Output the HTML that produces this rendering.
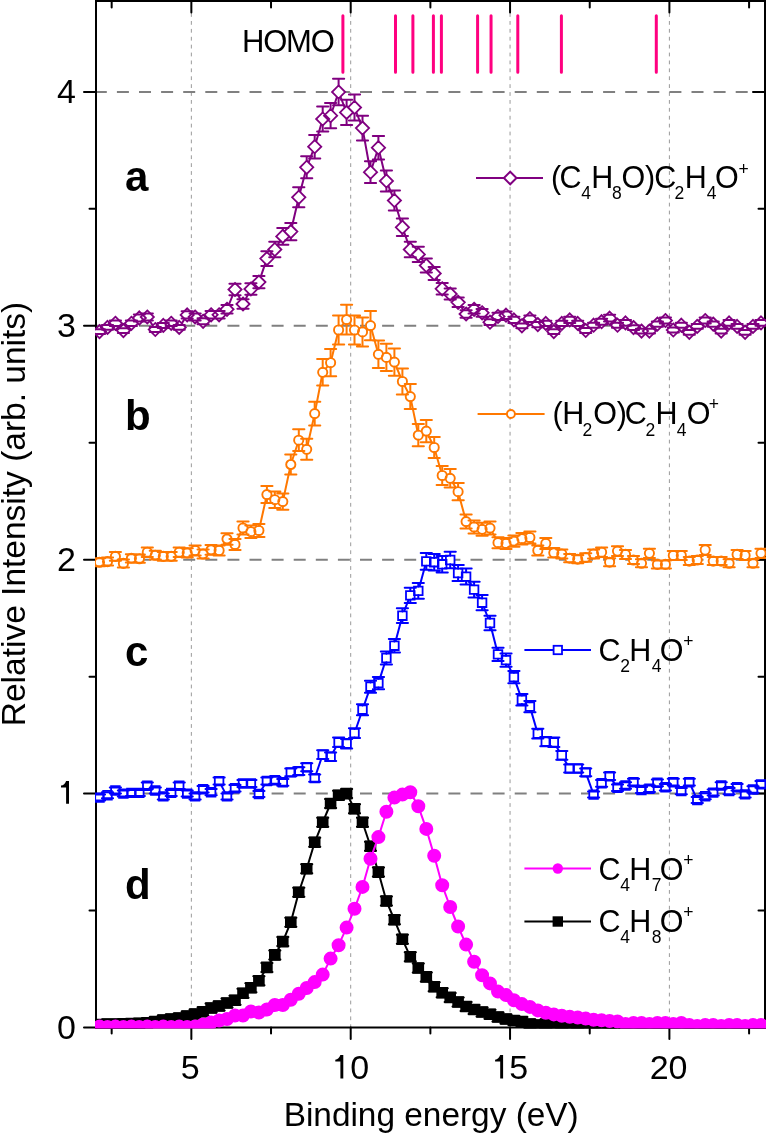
<!DOCTYPE html><html><head><meta charset="utf-8"><style>html,body{margin:0;padding:0;background:#fff}</style></head><body><svg width="766" height="1134" viewBox="0 0 766 1134" style="display:block;will-change:transform">
<rect width="766" height="1134" fill="#fff"/>
<line x1="191.35" y1="-2.7" x2="191.35" y2="1027" stroke="#9a9a9a" stroke-width="1" stroke-dasharray="3.8 4.1"/>
<line x1="350.70" y1="-2.7" x2="350.70" y2="1027" stroke="#9a9a9a" stroke-width="1" stroke-dasharray="3.8 4.1"/>
<line x1="510.05" y1="-2.7" x2="510.05" y2="1027" stroke="#9a9a9a" stroke-width="1" stroke-dasharray="3.8 4.1"/>
<line x1="669.40" y1="-2.7" x2="669.40" y2="1027" stroke="#9a9a9a" stroke-width="1" stroke-dasharray="3.8 4.1"/>
<line x1="94.8" y1="793.60" x2="765" y2="793.60" stroke="#808080" stroke-width="2" stroke-dasharray="12 10.1"/>
<line x1="94.8" y1="559.70" x2="765" y2="559.70" stroke="#808080" stroke-width="2" stroke-dasharray="12 10.1"/>
<line x1="94.8" y1="325.80" x2="765" y2="325.80" stroke="#808080" stroke-width="2" stroke-dasharray="12 10.1"/>
<line x1="94.8" y1="91.90" x2="765" y2="91.90" stroke="#808080" stroke-width="2" stroke-dasharray="12 10.1"/>
<rect x="96" y="1" width="669" height="1026.5" fill="none" stroke="#000" stroke-width="2"/>
<path d="M191.35 1V12.5M191.35 1027.5V1039M350.70 1V12.5M350.70 1027.5V1039M510.05 1V12.5M510.05 1027.5V1039M669.40 1V12.5M669.40 1027.5V1039M111.67 1V7.5M111.67 1027.5V1033.5M271.02 1V7.5M271.02 1027.5V1033.5M430.38 1V7.5M430.38 1027.5V1033.5M589.73 1V7.5M589.73 1027.5V1033.5M749.08 1V7.5M749.08 1027.5V1033.5M84 1027.50H96M753 1027.50H765M84 793.60H96M753 793.60H765M84 559.70H96M753 559.70H765M84 325.80H96M753 325.80H765M84 91.90H96M753 91.90H765M89.5 910.55H96M758.5 910.55H765M89.5 676.65H96M758.5 676.65H765M89.5 442.75H96M758.5 442.75H765M89.5 208.85H96M758.5 208.85H765" stroke="#000" stroke-width="2" stroke-linecap="round" fill="none"/>
<g font-family="Liberation Sans" font-size="34" fill="#000">
<text x="76" y="1038.5" text-anchor="end">0</text>
<text x="76" y="570.7" text-anchor="end">2</text>
<text x="76" y="336.8" text-anchor="end">3</text>
<text x="76" y="102.9" text-anchor="end">4</text>
<path d="M66.10 780.90H69.00V803.80H66.10V787.40H61.00V785.60C63.40 785.30 65.20 783.70 66.10 780.90Z" fill="#000"/>
<text x="190.3" y="1078.8" text-anchor="middle">5</text>
<text x="668.6" y="1078.8" text-anchor="middle">20</text>
<text x="350.3" y="1078.8">0</text><text x="509.3" y="1078.8">5</text>
<path d="M340.40 1055.10H343.30V1078.60H340.40V1061.60H335.30V1059.80C337.70 1059.50 339.50 1057.90 340.40 1055.10Z" fill="#000"/>
<path d="M500.20 1055.10H503.10V1078.60H500.20V1061.60H495.10V1059.80C497.50 1059.50 499.30 1057.90 500.20 1055.10Z" fill="#000"/>
<text x="431.2" y="1126" text-anchor="middle" font-size="33.4">Binding energy (eV)</text>
<text transform="translate(25,514) rotate(-90)" text-anchor="middle" font-size="33.5">Relative Intensity (arb. units)</text>
</g>
<g font-family="Liberation Sans" font-size="42" font-weight="bold">
<text x="125" y="191">a</text>
<text x="125" y="430">b</text>
<text x="125" y="666">c</text>
<text x="125" y="899">d</text>
</g>
<text x="242" y="51.9" font-family="Liberation Sans" font-size="31" letter-spacing="-1.2">HOMO</text>
<path d="M342.9 15.7V72.2M395.5 15.7V72.2M412.9 15.7V72.2M433.4 15.7V72.2M441.4 15.7V72.2M477.6 15.7V72.2M491.05 15.7V72.2M517.8 15.7V72.2M561.4 15.7V72.2M656.3 15.7V72.2" stroke="#ff0080" stroke-width="3" stroke-linecap="round"/>
<!--LEGENDS--><path d="M476 178H543" stroke="#800080" stroke-width="2"/>
<path d="M510.2 171.7L516.5 178L510.2 184.3L503.9 178Z" stroke="#800080" stroke-width="2" fill="#fff"/>
<text x="552" y="187.8" font-family="Liberation Sans" font-size="30.5"><tspan y="187.8" dx="-0.9">(</tspan><tspan y="187.8" dx="-1.8">C</tspan><tspan font-size="17.5" y="199.3" dx="-0.3">4</tspan><tspan y="187.8" dx="0.2">H</tspan><tspan font-size="17.5" y="199.3" dx="-1.2">8</tspan><tspan y="187.8" dx="-0.3">O</tspan><tspan y="187.8" dx="-0.1">)</tspan><tspan y="187.8" dx="-1.0">C</tspan><tspan font-size="17.5" y="199.3" dx="-1.8">2</tspan><tspan y="187.8" dx="0.5">H</tspan><tspan font-size="17.5" y="199.3" dx="0.1">4</tspan><tspan y="187.8" dx="-1.5">O</tspan><tspan font-size="17.5" y="175.20000000000002" dx="-0.2">+</tspan></text>
<path d="M477.6 414H544.6" stroke="#ff7800" stroke-width="2"/>
<circle cx="510.9" cy="414" r="4" stroke="#ff7800" stroke-width="1.9" fill="#fff"/>
<text x="554" y="424.4" font-family="Liberation Sans" font-size="30.5"><tspan y="424.4" dx="-1.6">(</tspan><tspan y="424.4" dx="-0.2">H</tspan><tspan font-size="17.5" y="435.9" dx="-2.0">2</tspan><tspan y="424.4" dx="1.0">O</tspan><tspan y="424.4" dx="-0.2">)</tspan><tspan y="424.4" dx="-2.2">C</tspan><tspan font-size="17.5" y="435.9" dx="-1.2">2</tspan><tspan y="424.4" dx="0.4">H</tspan><tspan font-size="17.5" y="435.9" dx="-0.8">4</tspan><tspan y="424.4" dx="0.2">O</tspan><tspan font-size="17.5" y="410.4" dx="-1.8">+</tspan></text>
<path d="M524.4 650H591" stroke="#0000ff" stroke-width="2"/>
<rect x="553.6" y="645.8" width="8.4" height="8.4" stroke="#0000ff" stroke-width="1.8" fill="#fff"/>
<text x="598.5" y="660.6" font-family="Liberation Sans" font-size="30.5"><tspan y="660.6">C</tspan><tspan font-size="17.5" y="672.1" dx="-0.4">2</tspan><tspan y="660.6" dx="-0.6">H</tspan><tspan font-size="17.5" y="672.1" dx="0.4">4</tspan><tspan y="660.6" dx="-1.8">O</tspan><tspan font-size="17.5" y="646.6">+</tspan></text>
<path d="M524.4 868.5H591" stroke="#ff00ff" stroke-width="2"/>
<circle cx="557.8" cy="868.5" r="5.2" fill="#ff00ff"/>
<text x="598.5" y="879.5" font-family="Liberation Sans" font-size="30.5"><tspan y="879.5">C</tspan><tspan font-size="17.5" y="891.0" dx="-0.4">4</tspan><tspan y="879.5" dx="-0.6">H</tspan><tspan font-size="17.5" y="891.0" dx="0.4">7</tspan><tspan y="879.5" dx="-1.8">O</tspan><tspan font-size="17.5" y="865.5">+</tspan></text>
<path d="M524.4 921.5H591" stroke="#000" stroke-width="2"/>
<rect x="552.6" y="916.3" width="10.4" height="10.4" fill="#000"/>
<text x="598.5" y="931.7" font-family="Liberation Sans" font-size="30.5"><tspan y="931.7">C</tspan><tspan font-size="17.5" y="943.2" dx="-0.4">4</tspan><tspan y="931.7" dx="-0.6">H</tspan><tspan font-size="17.5" y="943.2" dx="0.4">8</tspan><tspan y="931.7" dx="-1.8">O</tspan><tspan font-size="17.5" y="917.7">+</tspan></text><!--/LEGENDS-->
<!--DATA--><defs><clipPath id="pc"><rect x="95" y="0" width="671" height="1028.6"/></clipPath></defs>
<g clip-path="url(#pc)">
<polyline points="99.5,331.6 107.5,327.4 115.4,323.3 123.4,330.6 131.4,323.3 139.3,318 147.3,317 155.3,329.5 163.3,325.4 171.2,323.3 179.2,327.4 187.2,314.9 195.1,317 203.1,321.3 211.1,314.8 219.1,314.8 227,309.3 235,289.5 243,304 250.9,289 258.9,282.1 266.9,258.6 274.8,249.5 282.8,236.4 290.8,231.6 298.8,197.3 306.7,167.3 314.7,146.7 322.7,119 330.6,115.7 338.6,92 346.6,112.4 354.5,107.5 362.5,128.1 370.5,172.2 378.4,147.7 386.4,181 394.4,200.5 402.4,227.3 410.3,249.5 418.3,254.4 426.3,265.5 434.2,273.5 442.2,288.8 450.2,294 458.1,302.3 466.1,314 474.1,309.3 482.1,312.8 490,322.2 498,316.4 506,315.2 513.9,319.9 521.9,325.8 529.9,318.7 537.8,324.6 545.8,323.4 553.8,331.6 561.8,323.4 569.7,319.9 577.7,323.4 585.7,330.5 593.6,325.2 601.6,321.7 609.6,318.2 617.5,325.2 625.5,322.9 633.5,327.6 641.5,331.1 649.4,331.1 657.4,324.1 665.4,320.5 673.3,330 681.3,325.2 689.3,332.3 697.2,326.4 705.2,320.5 713.2,324.1 721.2,331.1 729.1,322.9 737.1,326.4 745.1,332.3 753,326.4 761,322.9" fill="none" stroke="#800080" stroke-width="2" stroke-linejoin="round"/>
<path d="M99.5 325L106.1 331.6L99.5 338.2L92.9 331.6ZM107.5 320.8L114.1 327.4L107.5 334L100.9 327.4ZM115.4 316.7L122 323.3L115.4 329.9L108.8 323.3ZM123.4 324L130 330.6L123.4 337.2L116.8 330.6ZM131.4 316.7L138 323.3L131.4 329.9L124.8 323.3ZM139.3 311.4L145.9 318L139.3 324.6L132.8 318ZM147.3 310.4L153.9 317L147.3 323.6L140.7 317ZM155.3 322.9L161.9 329.5L155.3 336.1L148.7 329.5ZM163.3 318.8L169.9 325.4L163.3 332L156.7 325.4ZM171.2 316.7L177.8 323.3L171.2 329.9L164.6 323.3ZM179.2 320.8L185.8 327.4L179.2 334L172.6 327.4ZM187.2 308.3L193.8 314.9L187.2 321.5L180.6 314.9ZM195.1 310.4L201.7 317L195.1 323.6L188.5 317ZM203.1 314.7L209.7 321.3L203.1 327.9L196.5 321.3ZM211.1 308.2L217.7 314.8L211.1 321.4L204.5 314.8ZM219.1 308.2L225.7 314.8L219.1 321.4L212.5 314.8ZM227 302.7L233.6 309.3L227 315.9L220.4 309.3ZM235 282.9L241.6 289.5L235 296.1L228.4 289.5ZM243 297.4L249.6 304L243 310.6L236.4 304ZM250.9 282.4L257.5 289L250.9 295.6L244.3 289ZM258.9 275.5L265.5 282.1L258.9 288.7L252.3 282.1ZM266.9 252L273.5 258.6L266.9 265.2L260.3 258.6ZM274.8 242.9L281.4 249.5L274.8 256.1L268.2 249.5ZM282.8 229.8L289.4 236.4L282.8 243L276.2 236.4ZM290.8 225L297.4 231.6L290.8 238.2L284.2 231.6ZM298.8 190.7L305.4 197.3L298.8 203.9L292.1 197.3ZM306.7 160.7L313.3 167.3L306.7 173.9L300.1 167.3ZM314.7 140.1L321.3 146.7L314.7 153.3L308.1 146.7ZM322.7 112.4L329.3 119L322.7 125.6L316.1 119ZM330.6 109.1L337.2 115.7L330.6 122.3L324 115.7ZM338.6 85.4L345.2 92L338.6 98.6L332 92ZM346.6 105.8L353.2 112.4L346.6 119L340 112.4ZM354.5 100.9L361.1 107.5L354.5 114.1L347.9 107.5ZM362.5 121.5L369.1 128.1L362.5 134.7L355.9 128.1ZM370.5 165.6L377.1 172.2L370.5 178.8L363.9 172.2ZM378.4 141.1L385.1 147.7L378.4 154.3L371.8 147.7ZM386.4 174.4L393 181L386.4 187.6L379.8 181ZM394.4 193.9L401 200.5L394.4 207.1L387.8 200.5ZM402.4 220.7L409 227.3L402.4 233.9L395.8 227.3ZM410.3 242.9L416.9 249.5L410.3 256.1L403.7 249.5ZM418.3 247.8L424.9 254.4L418.3 261L411.7 254.4ZM426.3 258.9L432.9 265.5L426.3 272.1L419.7 265.5ZM434.2 266.9L440.8 273.5L434.2 280.1L427.6 273.5ZM442.2 282.2L448.8 288.8L442.2 295.4L435.6 288.8ZM450.2 287.4L456.8 294L450.2 300.6L443.6 294ZM458.1 295.7L464.8 302.3L458.1 308.9L451.5 302.3ZM466.1 307.4L472.7 314L466.1 320.6L459.5 314ZM474.1 302.7L480.7 309.3L474.1 315.9L467.5 309.3ZM482.1 306.2L488.7 312.8L482.1 319.4L475.5 312.8ZM490 315.6L496.6 322.2L490 328.8L483.4 322.2ZM498 309.8L504.6 316.4L498 323L491.4 316.4ZM506 308.6L512.6 315.2L506 321.8L499.4 315.2ZM513.9 313.3L520.5 319.9L513.9 326.5L507.3 319.9ZM521.9 319.2L528.5 325.8L521.9 332.4L515.3 325.8ZM529.9 312.1L536.5 318.7L529.9 325.3L523.3 318.7ZM537.8 318L544.4 324.6L537.8 331.2L531.2 324.6ZM545.8 316.8L552.4 323.4L545.8 330L539.2 323.4ZM553.8 325L560.4 331.6L553.8 338.2L547.2 331.6ZM561.8 316.8L568.4 323.4L561.8 330L555.2 323.4ZM569.7 313.3L576.3 319.9L569.7 326.5L563.1 319.9ZM577.7 316.8L584.3 323.4L577.7 330L571.1 323.4ZM585.7 323.9L592.3 330.5L585.7 337.1L579.1 330.5ZM593.6 318.6L600.2 325.2L593.6 331.8L587 325.2ZM601.6 315.1L608.2 321.7L601.6 328.3L595 321.7ZM609.6 311.6L616.2 318.2L609.6 324.8L603 318.2ZM617.5 318.6L624.1 325.2L617.5 331.8L610.9 325.2ZM625.5 316.3L632.1 322.9L625.5 329.5L618.9 322.9ZM633.5 321L640.1 327.6L633.5 334.2L626.9 327.6ZM641.5 324.5L648.1 331.1L641.5 337.7L634.9 331.1ZM649.4 324.5L656 331.1L649.4 337.7L642.8 331.1ZM657.4 317.5L664 324.1L657.4 330.7L650.8 324.1ZM665.4 313.9L672 320.5L665.4 327.1L658.8 320.5ZM673.3 323.4L679.9 330L673.3 336.6L666.7 330ZM681.3 318.6L687.9 325.2L681.3 331.8L674.7 325.2ZM689.3 325.7L695.9 332.3L689.3 338.9L682.7 332.3ZM697.2 319.8L703.9 326.4L697.2 333L690.6 326.4ZM705.2 313.9L711.8 320.5L705.2 327.1L698.6 320.5ZM713.2 317.5L719.8 324.1L713.2 330.7L706.6 324.1ZM721.2 324.5L727.8 331.1L721.2 337.7L714.6 331.1ZM729.1 316.3L735.7 322.9L729.1 329.5L722.5 322.9ZM737.1 319.8L743.7 326.4L737.1 333L730.5 326.4ZM745.1 325.7L751.7 332.3L745.1 338.9L738.5 332.3ZM753 319.8L759.6 326.4L753 333L746.4 326.4ZM761 316.3L767.6 322.9L761 329.5L754.4 322.9Z" stroke="#800080" stroke-width="1.8" fill="#fff"/>
<path d="M93.9 329.2H105.1M93.9 334H105.1M101.9 325H113.1M101.9 329.8H113.1M109.8 320.5H121M109.8 326.1H121M117.8 328.2H129M117.8 333H129M125.8 320.5H137M125.8 326.1H137M133.8 314.6H144.9M133.8 321.4H144.9M141.7 313.5H152.9M141.7 320.5H152.9M149.7 327.1H160.9M149.7 331.9H160.9M157.7 322.9H168.9M157.7 327.9H168.9M165.6 320.5H176.8M165.6 326.1H176.8M173.6 325H184.8M173.6 329.8H184.8M181.6 311.2H192.8M181.6 318.6H192.8M189.5 313.5H200.7M189.5 320.5H200.7M197.5 318.3H208.7M197.5 324.3H208.7M205.5 311.1H216.7M205.5 318.5H216.7M213.5 311.1H224.7M213.5 318.5H224.7M221.4 305.1H232.6M221.4 313.5H232.6M229.4 283.8H240.6M229.4 295.2H240.6M237.4 299.3H248.6M237.4 308.7H248.6M245.3 283.3H256.5M245.3 294.7H256.5M253.3 276H264.5M253.3 288.2H264.5M266.9 251.2V252M266.9 265.2V266M261.3 251.2H272.5M261.3 266H272.5M274.8 241.7V242.9M274.8 256.1V257.3M269.2 241.7H280.4M269.2 257.3H280.4M282.8 228V229.8M282.8 243V244.8M277.2 228H288.4M277.2 244.8H288.4M290.8 223V225M290.8 238.2V240.2M285.2 223H296.4M285.2 240.2H296.4M298.8 187.3V190.7M298.8 203.9V207.3M293.1 187.3H304.4M293.1 207.3H304.4M306.7 156.3V160.7M306.7 173.9V178.3M301.1 156.3H312.3M301.1 178.3H312.3M314.7 135V140.1M314.7 153.3V158.4M309.1 135H320.3M309.1 158.4H320.3M322.7 106.5V112.4M322.7 125.6V131.5M317.1 106.5H328.3M317.1 131.5H328.3M330.6 103.1V109.1M330.6 122.3V128.3M325 103.1H336.2M325 128.3H336.2M338.6 78.7V85.4M338.6 98.6V105.3M333 78.7H344.2M333 105.3H344.2M346.6 99.7V105.8M346.6 119V125.1M341 99.7H352.2M341 125.1H352.2M354.5 94.6V100.9M354.5 114.1V120.4M348.9 94.6H360.1M348.9 120.4H360.1M362.5 115.8V121.5M362.5 134.7V140.4M356.9 115.8H368.1M356.9 140.4H368.1M370.5 161.3V165.6M370.5 178.8V183.1M364.9 161.3H376.1M364.9 183.1H376.1M378.4 136V141.1M378.4 154.3V159.4M372.8 136H384.1M372.8 159.4H384.1M386.4 170.4V174.4M386.4 187.6V191.6M380.8 170.4H392M380.8 191.6H392M394.4 190.6V193.9M394.4 207.1V210.4M388.8 190.6H400M388.8 210.4H400M402.4 218.5V220.7M402.4 233.9V236.1M396.8 218.5H408M396.8 236.1H408M410.3 241.7V242.9M410.3 256.1V257.3M404.7 241.7H415.9M404.7 257.3H415.9M418.3 246.8V247.8M418.3 261V262M412.7 246.8H423.9M412.7 262H423.9M420.7 258.4H431.9M420.7 272.6H431.9M428.6 266.9H439.8M428.6 280.1H439.8M436.6 283.1H447.8M436.6 294.5H447.8M444.6 288.6H455.8M444.6 299.4H455.8M452.5 297.5H463.8M452.5 307.1H463.8M460.5 310.2H471.7M460.5 317.8H471.7M468.5 305.1H479.7M468.5 313.5H479.7M476.5 308.9H487.7M476.5 316.7H487.7M484.4 319.3H495.6M484.4 325.1H495.6M492.4 312.8H503.6M492.4 320H503.6M500.4 311.5H511.6M500.4 318.9H511.6M508.3 316.7H519.5M508.3 323.1H519.5M516.3 323.4H527.5M516.3 328.2H527.5M524.3 315.4H535.5M524.3 322H535.5M532.2 322H543.4M532.2 327.2H543.4M540.2 320.7H551.4M540.2 326.1H551.4M548.2 329.2H559.4M548.2 334H559.4M556.2 320.7H567.4M556.2 326.1H567.4M564.1 316.7H575.3M564.1 323.1H575.3M572.1 320.7H583.3M572.1 326.1H583.3M580.1 328.1H591.3M580.1 332.9H591.3M588 322.7H599.2M588 327.7H599.2M596 318.7H607.2M596 324.7H607.2M604 314.8H615.2M604 321.6H615.2M611.9 322.7H623.1M611.9 327.7H623.1M619.9 320.1H631.1M619.9 325.7H631.1M627.9 325.2H639.1M627.9 330H639.1M635.9 328.7H647.1M635.9 333.5H647.1M643.8 328.7H655M643.8 333.5H655M651.8 321.4H663M651.8 326.8H663M659.8 317.4H671M659.8 323.6H671M667.7 327.6H678.9M667.7 332.4H678.9M675.7 322.7H686.9M675.7 327.7H686.9M683.7 329.9H694.9M683.7 334.7H694.9M691.6 324H702.9M691.6 328.8H702.9M699.6 317.4H710.8M699.6 323.6H710.8M707.6 321.4H718.8M707.6 326.8H718.8M715.6 328.7H726.8M715.6 333.5H726.8M723.5 320.1H734.7M723.5 325.7H734.7M731.5 324H742.7M731.5 328.8H742.7M739.5 329.9H750.7M739.5 334.7H750.7M747.4 324H758.6M747.4 328.8H758.6M755.4 320.1H766.6M755.4 325.7H766.6" stroke="#800080" stroke-width="2" stroke-linecap="round" fill="none"/>
<polyline points="99.5,562.3 107.5,561.6 115.4,556.4 123.4,563.4 131.4,558.3 139.3,558.7 147.3,552.2 155.3,555.2 163.3,556.4 171.2,556.4 179.2,552.2 187.2,552.9 195.1,550.5 203.1,554 211.1,549.8 219.1,550.5 227,539 235,544.5 243,528 250.9,531.7 258.9,530.5 266.9,494.6 274.8,499.7 282.8,501.6 290.8,464.5 298.8,440.2 306.7,449.3 314.7,413.6 322.7,372.3 330.6,362.7 338.6,330 346.6,319.6 354.5,330 362.5,331.9 370.5,325.6 378.4,354.3 386.4,357.4 394.4,362.1 402.4,381.5 410.3,396.6 418.3,435.2 426.3,431.1 434.2,447.5 442.2,475.5 450.2,478.3 458.1,491.7 466.1,521.6 474.1,527 482.1,529.3 490,528.1 498,542.7 506,543.4 513.9,541.1 521.9,538.7 529.9,537.5 537.8,550.5 545.8,543.4 553.8,552.8 561.8,554 569.7,558.2 577.7,559.2 585.7,557.5 593.6,554 601.6,552.2 609.6,562.2 617.5,551.1 625.5,554.4 633.5,560 641.5,563.3 649.4,553.3 657.4,564.4 665.4,564.4 673.3,555.5 681.3,555.5 689.3,561.1 697.2,560 705.2,550 713.2,561.1 721.2,561.1 729.1,563.3 737.1,554.4 745.1,555.5 753,563.3 761,553.3" fill="none" stroke="#ff7800" stroke-width="2" stroke-linejoin="round"/>
<path d="M94.9 562.3a4.6 4.6 0 1 0 9.2 0a4.6 4.6 0 1 0 -9.2 0ZM102.9 561.6a4.6 4.6 0 1 0 9.2 0a4.6 4.6 0 1 0 -9.2 0ZM110.8 556.4a4.6 4.6 0 1 0 9.2 0a4.6 4.6 0 1 0 -9.2 0ZM118.8 563.4a4.6 4.6 0 1 0 9.2 0a4.6 4.6 0 1 0 -9.2 0ZM126.8 558.3a4.6 4.6 0 1 0 9.2 0a4.6 4.6 0 1 0 -9.2 0ZM134.8 558.7a4.6 4.6 0 1 0 9.2 0a4.6 4.6 0 1 0 -9.2 0ZM142.7 552.2a4.6 4.6 0 1 0 9.2 0a4.6 4.6 0 1 0 -9.2 0ZM150.7 555.2a4.6 4.6 0 1 0 9.2 0a4.6 4.6 0 1 0 -9.2 0ZM158.7 556.4a4.6 4.6 0 1 0 9.2 0a4.6 4.6 0 1 0 -9.2 0ZM166.6 556.4a4.6 4.6 0 1 0 9.2 0a4.6 4.6 0 1 0 -9.2 0ZM174.6 552.2a4.6 4.6 0 1 0 9.2 0a4.6 4.6 0 1 0 -9.2 0ZM182.6 552.9a4.6 4.6 0 1 0 9.2 0a4.6 4.6 0 1 0 -9.2 0ZM190.5 550.5a4.6 4.6 0 1 0 9.2 0a4.6 4.6 0 1 0 -9.2 0ZM198.5 554a4.6 4.6 0 1 0 9.2 0a4.6 4.6 0 1 0 -9.2 0ZM206.5 549.8a4.6 4.6 0 1 0 9.2 0a4.6 4.6 0 1 0 -9.2 0ZM214.5 550.5a4.6 4.6 0 1 0 9.2 0a4.6 4.6 0 1 0 -9.2 0ZM222.4 539a4.6 4.6 0 1 0 9.2 0a4.6 4.6 0 1 0 -9.2 0ZM230.4 544.5a4.6 4.6 0 1 0 9.2 0a4.6 4.6 0 1 0 -9.2 0ZM238.4 528a4.6 4.6 0 1 0 9.2 0a4.6 4.6 0 1 0 -9.2 0ZM246.3 531.7a4.6 4.6 0 1 0 9.2 0a4.6 4.6 0 1 0 -9.2 0ZM254.3 530.5a4.6 4.6 0 1 0 9.2 0a4.6 4.6 0 1 0 -9.2 0ZM262.3 494.6a4.6 4.6 0 1 0 9.2 0a4.6 4.6 0 1 0 -9.2 0ZM270.2 499.7a4.6 4.6 0 1 0 9.2 0a4.6 4.6 0 1 0 -9.2 0ZM278.2 501.6a4.6 4.6 0 1 0 9.2 0a4.6 4.6 0 1 0 -9.2 0ZM286.2 464.5a4.6 4.6 0 1 0 9.2 0a4.6 4.6 0 1 0 -9.2 0ZM294.1 440.2a4.6 4.6 0 1 0 9.2 0a4.6 4.6 0 1 0 -9.2 0ZM302.1 449.3a4.6 4.6 0 1 0 9.2 0a4.6 4.6 0 1 0 -9.2 0ZM310.1 413.6a4.6 4.6 0 1 0 9.2 0a4.6 4.6 0 1 0 -9.2 0ZM318.1 372.3a4.6 4.6 0 1 0 9.2 0a4.6 4.6 0 1 0 -9.2 0ZM326 362.7a4.6 4.6 0 1 0 9.2 0a4.6 4.6 0 1 0 -9.2 0ZM334 330a4.6 4.6 0 1 0 9.2 0a4.6 4.6 0 1 0 -9.2 0ZM342 319.6a4.6 4.6 0 1 0 9.2 0a4.6 4.6 0 1 0 -9.2 0ZM349.9 330a4.6 4.6 0 1 0 9.2 0a4.6 4.6 0 1 0 -9.2 0ZM357.9 331.9a4.6 4.6 0 1 0 9.2 0a4.6 4.6 0 1 0 -9.2 0ZM365.9 325.6a4.6 4.6 0 1 0 9.2 0a4.6 4.6 0 1 0 -9.2 0ZM373.8 354.3a4.6 4.6 0 1 0 9.2 0a4.6 4.6 0 1 0 -9.2 0ZM381.8 357.4a4.6 4.6 0 1 0 9.2 0a4.6 4.6 0 1 0 -9.2 0ZM389.8 362.1a4.6 4.6 0 1 0 9.2 0a4.6 4.6 0 1 0 -9.2 0ZM397.8 381.5a4.6 4.6 0 1 0 9.2 0a4.6 4.6 0 1 0 -9.2 0ZM405.7 396.6a4.6 4.6 0 1 0 9.2 0a4.6 4.6 0 1 0 -9.2 0ZM413.7 435.2a4.6 4.6 0 1 0 9.2 0a4.6 4.6 0 1 0 -9.2 0ZM421.7 431.1a4.6 4.6 0 1 0 9.2 0a4.6 4.6 0 1 0 -9.2 0ZM429.6 447.5a4.6 4.6 0 1 0 9.2 0a4.6 4.6 0 1 0 -9.2 0ZM437.6 475.5a4.6 4.6 0 1 0 9.2 0a4.6 4.6 0 1 0 -9.2 0ZM445.6 478.3a4.6 4.6 0 1 0 9.2 0a4.6 4.6 0 1 0 -9.2 0ZM453.5 491.7a4.6 4.6 0 1 0 9.2 0a4.6 4.6 0 1 0 -9.2 0ZM461.5 521.6a4.6 4.6 0 1 0 9.2 0a4.6 4.6 0 1 0 -9.2 0ZM469.5 527a4.6 4.6 0 1 0 9.2 0a4.6 4.6 0 1 0 -9.2 0ZM477.5 529.3a4.6 4.6 0 1 0 9.2 0a4.6 4.6 0 1 0 -9.2 0ZM485.4 528.1a4.6 4.6 0 1 0 9.2 0a4.6 4.6 0 1 0 -9.2 0ZM493.4 542.7a4.6 4.6 0 1 0 9.2 0a4.6 4.6 0 1 0 -9.2 0ZM501.4 543.4a4.6 4.6 0 1 0 9.2 0a4.6 4.6 0 1 0 -9.2 0ZM509.3 541.1a4.6 4.6 0 1 0 9.2 0a4.6 4.6 0 1 0 -9.2 0ZM517.3 538.7a4.6 4.6 0 1 0 9.2 0a4.6 4.6 0 1 0 -9.2 0ZM525.3 537.5a4.6 4.6 0 1 0 9.2 0a4.6 4.6 0 1 0 -9.2 0ZM533.2 550.5a4.6 4.6 0 1 0 9.2 0a4.6 4.6 0 1 0 -9.2 0ZM541.2 543.4a4.6 4.6 0 1 0 9.2 0a4.6 4.6 0 1 0 -9.2 0ZM549.2 552.8a4.6 4.6 0 1 0 9.2 0a4.6 4.6 0 1 0 -9.2 0ZM557.2 554a4.6 4.6 0 1 0 9.2 0a4.6 4.6 0 1 0 -9.2 0ZM565.1 558.2a4.6 4.6 0 1 0 9.2 0a4.6 4.6 0 1 0 -9.2 0ZM573.1 559.2a4.6 4.6 0 1 0 9.2 0a4.6 4.6 0 1 0 -9.2 0ZM581.1 557.5a4.6 4.6 0 1 0 9.2 0a4.6 4.6 0 1 0 -9.2 0ZM589 554a4.6 4.6 0 1 0 9.2 0a4.6 4.6 0 1 0 -9.2 0ZM597 552.2a4.6 4.6 0 1 0 9.2 0a4.6 4.6 0 1 0 -9.2 0ZM605 562.2a4.6 4.6 0 1 0 9.2 0a4.6 4.6 0 1 0 -9.2 0ZM612.9 551.1a4.6 4.6 0 1 0 9.2 0a4.6 4.6 0 1 0 -9.2 0ZM620.9 554.4a4.6 4.6 0 1 0 9.2 0a4.6 4.6 0 1 0 -9.2 0ZM628.9 560a4.6 4.6 0 1 0 9.2 0a4.6 4.6 0 1 0 -9.2 0ZM636.9 563.3a4.6 4.6 0 1 0 9.2 0a4.6 4.6 0 1 0 -9.2 0ZM644.8 553.3a4.6 4.6 0 1 0 9.2 0a4.6 4.6 0 1 0 -9.2 0ZM652.8 564.4a4.6 4.6 0 1 0 9.2 0a4.6 4.6 0 1 0 -9.2 0ZM660.8 564.4a4.6 4.6 0 1 0 9.2 0a4.6 4.6 0 1 0 -9.2 0ZM668.7 555.5a4.6 4.6 0 1 0 9.2 0a4.6 4.6 0 1 0 -9.2 0ZM676.7 555.5a4.6 4.6 0 1 0 9.2 0a4.6 4.6 0 1 0 -9.2 0ZM684.7 561.1a4.6 4.6 0 1 0 9.2 0a4.6 4.6 0 1 0 -9.2 0ZM692.6 560a4.6 4.6 0 1 0 9.2 0a4.6 4.6 0 1 0 -9.2 0ZM700.6 550a4.6 4.6 0 1 0 9.2 0a4.6 4.6 0 1 0 -9.2 0ZM708.6 561.1a4.6 4.6 0 1 0 9.2 0a4.6 4.6 0 1 0 -9.2 0ZM716.6 561.1a4.6 4.6 0 1 0 9.2 0a4.6 4.6 0 1 0 -9.2 0ZM724.5 563.3a4.6 4.6 0 1 0 9.2 0a4.6 4.6 0 1 0 -9.2 0ZM732.5 554.4a4.6 4.6 0 1 0 9.2 0a4.6 4.6 0 1 0 -9.2 0ZM740.5 555.5a4.6 4.6 0 1 0 9.2 0a4.6 4.6 0 1 0 -9.2 0ZM748.4 563.3a4.6 4.6 0 1 0 9.2 0a4.6 4.6 0 1 0 -9.2 0ZM756.4 553.3a4.6 4.6 0 1 0 9.2 0a4.6 4.6 0 1 0 -9.2 0Z" stroke="#ff7800" stroke-width="1.9" fill="#fff"/>
<path d="M93.9 558.3H105.1M93.9 566.3H105.1M101.9 557.6H113.1M101.9 565.6H113.1M109.8 552.1H121M109.8 560.7H121M117.8 559.4H129M117.8 567.4H129M125.8 554.2H137M125.8 562.4H137M133.8 554.6H144.9M133.8 562.8H144.9M141.7 547.5H152.9M141.7 556.9H152.9M149.7 550.8H160.9M149.7 559.6H160.9M157.7 552.1H168.9M157.7 560.7H168.9M165.6 552.1H176.8M165.6 560.7H176.8M173.6 547.5H184.8M173.6 556.9H184.8M181.6 548.2H192.8M181.6 557.6H192.8M189.5 545.6H200.7M189.5 555.4H200.7M197.5 549.5H208.7M197.5 558.5H208.7M205.5 544.9H216.7M205.5 554.7H216.7M213.5 545.6H224.7M213.5 555.4H224.7M227 533.2V534.4M227 543.6V544.8M221.4 533.2H232.6M221.4 544.8H232.6M235 539.1V539.9M235 549.1V549.9M229.4 539.1H240.6M229.4 549.9H240.6M243 521.4V523.4M243 532.6V534.6M237.4 521.4H248.6M237.4 534.6H248.6M250.9 525.4V527.1M250.9 536.3V538M245.3 525.4H256.5M245.3 538H256.5M258.9 524.1V525.9M258.9 535.1V536.9M253.3 524.1H264.5M253.3 536.9H264.5M266.9 486.1V490M266.9 499.2V503.1M261.3 486.1H272.5M261.3 503.1H272.5M274.8 491.5V495.1M274.8 504.3V507.9M269.2 491.5H280.4M269.2 507.9H280.4M282.8 493.5V497M282.8 506.2V509.7M277.2 493.5H288.4M277.2 509.7H288.4M290.8 454.6V459.9M290.8 469.1V474.4M285.2 454.6H296.4M285.2 474.4H296.4M298.8 429.3V435.6M298.8 444.8V451.1M293.1 429.3H304.4M293.1 451.1H304.4M306.7 438.8V444.7M306.7 453.9V459.8M301.1 438.8H312.3M301.1 459.8H312.3M314.7 401.7V409M314.7 418.2V425.5M309.1 401.7H320.3M309.1 425.5H320.3M322.7 359V367.7M322.7 376.9V385.6M317.1 359H328.3M317.1 385.6H328.3M330.6 349.1V358.1M330.6 367.3V376.3M325 349.1H336.2M325 376.3H336.2M338.6 315.4V325.4M338.6 334.6V344.6M333 315.4H344.2M333 344.6H344.2M346.6 304.7V315M346.6 324.2V334.5M341 304.7H352.2M341 334.5H352.2M354.5 315.4V325.4M354.5 334.6V344.6M348.9 315.4H360.1M348.9 344.6H360.1M362.5 317.4V327.3M362.5 336.5V346.4M356.9 317.4H368.1M356.9 346.4H368.1M370.5 310.9V321M370.5 330.2V340.3M364.9 310.9H376.1M364.9 340.3H376.1M378.4 340.5V349.7M378.4 358.9V368.1M372.8 340.5H384.1M372.8 368.1H384.1M386.4 343.7V352.8M386.4 362V371.1M380.8 343.7H392M380.8 371.1H392M394.4 348.5V357.5M394.4 366.7V375.7M388.8 348.5H400M388.8 375.7H400M402.4 368.5V376.9M402.4 386.1V394.5M396.8 368.5H408M396.8 394.5H408M410.3 384.1V392M410.3 401.2V409.1M404.7 384.1H415.9M404.7 409.1H415.9M418.3 424.1V430.6M418.3 439.8V446.3M412.7 424.1H423.9M412.7 446.3H423.9M426.3 419.9V426.5M426.3 435.7V442.3M420.7 419.9H431.9M420.7 442.3H431.9M434.2 436.9V442.9M434.2 452.1V458.1M428.6 436.9H439.8M428.6 458.1H439.8M442.2 466.1V470.9M442.2 480.1V484.9M436.6 466.1H447.8M436.6 484.9H447.8M450.2 469.1V473.7M450.2 482.9V487.5M444.6 469.1H455.8M444.6 487.5H455.8M458.1 483.1V487.1M458.1 496.3V500.3M452.5 483.1H463.8M452.5 500.3H463.8M466.1 514.6V517M466.1 526.2V528.6M460.5 514.6H471.7M460.5 528.6H471.7M474.1 520.4V522.4M474.1 531.6V533.6M468.5 520.4H479.7M468.5 533.6H479.7M482.1 522.8V524.7M482.1 533.9V535.8M476.5 522.8H487.7M476.5 535.8H487.7M490 521.6V523.5M490 532.7V534.6M484.4 521.6H495.6M484.4 534.6H495.6M498 537.2V538.1M498 547.3V548.2M492.4 537.2H503.6M492.4 548.2H503.6M506 537.9V538.8M506 548V548.9M500.4 537.9H511.6M500.4 548.9H511.6M513.9 535.5V536.5M513.9 545.7V546.7M508.3 535.5H519.5M508.3 546.7H519.5M521.9 532.9V534.1M521.9 543.3V544.5M516.3 532.9H527.5M516.3 544.5H527.5M529.9 531.6V532.9M529.9 542.1V543.4M524.3 531.6H535.5M524.3 543.4H535.5M532.2 545.6H543.4M532.2 555.4H543.4M545.8 537.9V538.8M545.8 548V548.9M540.2 537.9H551.4M540.2 548.9H551.4M548.2 548.1H559.4M548.2 557.5H559.4M556.2 549.5H567.4M556.2 558.5H567.4M564.1 554.1H575.3M564.1 562.3H575.3M572.1 555.2H583.3M572.1 563.2H583.3M580.1 553.3H591.3M580.1 561.7H591.3M588 549.5H599.2M588 558.5H599.2M596 547.5H607.2M596 556.9H607.2M604 558.2H615.2M604 566.2H615.2M611.9 546.3H623.1M611.9 555.9H623.1M619.9 549.9H631.1M619.9 558.9H631.1M627.9 556H639.1M627.9 564H639.1M635.9 559.3H647.1M635.9 567.3H647.1M643.8 548.7H655M643.8 557.9H655M651.8 560.4H663M651.8 568.4H663M659.8 560.4H671M659.8 568.4H671M667.7 551.1H678.9M667.7 559.9H678.9M675.7 551.1H686.9M675.7 559.9H686.9M683.7 557.1H694.9M683.7 565.1H694.9M691.6 556H702.9M691.6 564H702.9M699.6 545.1H710.8M699.6 554.9H710.8M707.6 557.1H718.8M707.6 565.1H718.8M715.6 557.1H726.8M715.6 565.1H726.8M723.5 559.3H734.7M723.5 567.3H734.7M731.5 549.9H742.7M731.5 558.9H742.7M739.5 551.1H750.7M739.5 559.9H750.7M747.4 559.3H758.6M747.4 567.3H758.6M755.4 548.7H766.6M755.4 557.9H766.6" stroke="#ff7800" stroke-width="2" stroke-linecap="round" fill="none"/>
<polyline points="99.5,797.6 107.5,795.2 115.4,790.5 123.4,793.6 131.4,792.9 139.3,792.9 147.3,785.8 155.3,790.5 163.3,796.4 171.2,792.9 179.2,785.8 187.2,793.6 195.1,796.4 203.1,789.3 211.1,792.2 219.1,781.1 227,796.4 235,788.2 243,783.5 250.9,783.5 258.9,794 266.9,781 274.8,780.2 282.8,782.3 290.8,772.4 298.8,771.1 306.7,767.2 314.7,778.1 322.7,754.6 330.6,756.7 338.6,742.3 346.6,743.7 354.5,733.2 362.5,709.7 370.5,686.7 378.4,683.1 386.4,658 394.4,645.7 402.4,615.7 410.3,595.4 418.3,590.9 426.3,561.4 434.2,562.2 442.2,564.3 450.2,560 458.1,573 466.1,576.6 474.1,589.6 482.1,602.7 490,623 498,654.4 506,660.1 513.9,677.1 521.9,699.8 529.9,706.6 537.8,733.7 545.8,741.6 553.8,742.3 561.8,755.4 569.7,768.5 577.7,768.5 585.7,772.4 593.6,794.6 601.6,783.3 609.6,776.2 617.5,787.7 625.5,785.5 633.5,782.2 641.5,790 649.4,788.8 657.4,782.8 665.4,787.3 673.3,782.2 681.3,791.1 689.3,782.2 697.2,800 705.2,796.2 713.2,792.6 721.2,785.5 729.1,791.1 737.1,787.3 745.1,794.4 753,789.5 761,784.4" fill="none" stroke="#0000ff" stroke-width="2" stroke-linejoin="round"/>
<path d="M95.2 793.3h8.6v8.6h-8.6ZM103.2 790.9h8.6v8.6h-8.6ZM111.1 786.2h8.6v8.6h-8.6ZM119.1 789.3h8.6v8.6h-8.6ZM127.1 788.6h8.6v8.6h-8.6ZM135 788.6h8.6v8.6h-8.6ZM143 781.5h8.6v8.6h-8.6ZM151 786.2h8.6v8.6h-8.6ZM159 792.1h8.6v8.6h-8.6ZM166.9 788.6h8.6v8.6h-8.6ZM174.9 781.5h8.6v8.6h-8.6ZM182.9 789.3h8.6v8.6h-8.6ZM190.8 792.1h8.6v8.6h-8.6ZM198.8 785h8.6v8.6h-8.6ZM206.8 787.9h8.6v8.6h-8.6ZM214.8 776.8h8.6v8.6h-8.6ZM222.7 792.1h8.6v8.6h-8.6ZM230.7 783.9h8.6v8.6h-8.6ZM238.7 779.2h8.6v8.6h-8.6ZM246.6 779.2h8.6v8.6h-8.6ZM254.6 789.7h8.6v8.6h-8.6ZM262.6 776.7h8.6v8.6h-8.6ZM270.5 775.9h8.6v8.6h-8.6ZM278.5 778h8.6v8.6h-8.6ZM286.5 768.1h8.6v8.6h-8.6ZM294.4 766.8h8.6v8.6h-8.6ZM302.4 762.9h8.6v8.6h-8.6ZM310.4 773.8h8.6v8.6h-8.6ZM318.4 750.3h8.6v8.6h-8.6ZM326.3 752.4h8.6v8.6h-8.6ZM334.3 738h8.6v8.6h-8.6ZM342.3 739.4h8.6v8.6h-8.6ZM350.2 728.9h8.6v8.6h-8.6ZM358.2 705.4h8.6v8.6h-8.6ZM366.2 682.4h8.6v8.6h-8.6ZM374.1 678.8h8.6v8.6h-8.6ZM382.1 653.7h8.6v8.6h-8.6ZM390.1 641.4h8.6v8.6h-8.6ZM398.1 611.4h8.6v8.6h-8.6ZM406 591.1h8.6v8.6h-8.6ZM414 586.6h8.6v8.6h-8.6ZM422 557.1h8.6v8.6h-8.6ZM429.9 557.9h8.6v8.6h-8.6ZM437.9 560h8.6v8.6h-8.6ZM445.9 555.7h8.6v8.6h-8.6ZM453.8 568.7h8.6v8.6h-8.6ZM461.8 572.3h8.6v8.6h-8.6ZM469.8 585.3h8.6v8.6h-8.6ZM477.8 598.4h8.6v8.6h-8.6ZM485.7 618.7h8.6v8.6h-8.6ZM493.7 650.1h8.6v8.6h-8.6ZM501.7 655.8h8.6v8.6h-8.6ZM509.6 672.8h8.6v8.6h-8.6ZM517.6 695.5h8.6v8.6h-8.6ZM525.6 702.3h8.6v8.6h-8.6ZM533.5 729.4h8.6v8.6h-8.6ZM541.5 737.3h8.6v8.6h-8.6ZM549.5 738h8.6v8.6h-8.6ZM557.5 751.1h8.6v8.6h-8.6ZM565.4 764.2h8.6v8.6h-8.6ZM573.4 764.2h8.6v8.6h-8.6ZM581.4 768.1h8.6v8.6h-8.6ZM589.3 790.3h8.6v8.6h-8.6ZM597.3 779h8.6v8.6h-8.6ZM605.3 771.9h8.6v8.6h-8.6ZM613.2 783.4h8.6v8.6h-8.6ZM621.2 781.2h8.6v8.6h-8.6ZM629.2 777.9h8.6v8.6h-8.6ZM637.2 785.7h8.6v8.6h-8.6ZM645.1 784.5h8.6v8.6h-8.6ZM653.1 778.5h8.6v8.6h-8.6ZM661.1 783h8.6v8.6h-8.6ZM669 777.9h8.6v8.6h-8.6ZM677 786.8h8.6v8.6h-8.6ZM685 777.9h8.6v8.6h-8.6ZM693 795.7h8.6v8.6h-8.6ZM700.9 791.9h8.6v8.6h-8.6ZM708.9 788.3h8.6v8.6h-8.6ZM716.9 781.2h8.6v8.6h-8.6ZM724.8 786.8h8.6v8.6h-8.6ZM732.8 783h8.6v8.6h-8.6ZM740.8 790.1h8.6v8.6h-8.6ZM748.7 785.2h8.6v8.6h-8.6ZM756.7 780.1h8.6v8.6h-8.6Z" stroke="#0000ff" stroke-width="1.8" fill="#fff"/>
<path d="M93.9 794.6H105.1M93.9 800.6H105.1M101.9 792.2H113.1M101.9 798.2H113.1M109.8 787.4H121M109.8 793.6H121M117.8 790.6H129M117.8 796.6H129M125.8 789.9H137M125.8 795.9H137M133.8 789.9H144.9M133.8 795.9H144.9M141.7 782.5H152.9M141.7 789.1H152.9M149.7 787.4H160.9M149.7 793.6H160.9M157.7 793.4H168.9M157.7 799.4H168.9M165.6 789.9H176.8M165.6 795.9H176.8M173.6 782.5H184.8M173.6 789.1H184.8M181.6 790.6H192.8M181.6 796.6H192.8M189.5 793.4H200.7M189.5 799.4H200.7M197.5 786.1H208.7M197.5 792.5H208.7M205.5 789.1H216.7M205.5 795.3H216.7M213.5 777.6H224.7M213.5 784.6H224.7M221.4 793.4H232.6M221.4 799.4H232.6M229.4 785H240.6M229.4 791.4H240.6M237.4 780.1H248.6M237.4 786.9H248.6M245.3 780.1H256.5M245.3 786.9H256.5M253.3 791H264.5M253.3 797H264.5M261.3 777.5H272.5M261.3 784.5H272.5M269.2 776.7H280.4M269.2 783.7H280.4M277.2 778.9H288.4M277.2 785.7H288.4M285.2 768.6H296.4M285.2 776.2H296.4M293.1 767.3H304.4M293.1 774.9H304.4M301.1 763.2H312.3M301.1 771.2H312.3M309.1 774.5H320.3M309.1 781.7H320.3M317.1 750.2H328.3M317.1 759H328.3M325 752.4H336.2M325 761H336.2M333 737.6H344.2M333 747H344.2M341 739H352.2M341 748.4H352.2M354.5 728.3V728.9M354.5 737.5V738.1M348.9 728.3H360.1M348.9 738.1H360.1M362.5 704.2V705.4M362.5 714V715.2M356.9 704.2H368.1M356.9 715.2H368.1M370.5 680.7V682.4M370.5 691V692.7M364.9 680.7H376.1M364.9 692.7H376.1M378.4 677V678.8M378.4 687.4V689.2M372.8 677H384.1M372.8 689.2H384.1M386.4 651.4V653.7M386.4 662.3V664.6M380.8 651.4H392M380.8 664.6H392M394.4 638.9V641.4M394.4 650V652.5M388.8 638.9H400M388.8 652.5H400M402.4 608.3V611.4M402.4 620V623.1M396.8 608.3H408M396.8 623.1H408M410.3 587.7V591.1M410.3 599.7V603.1M404.7 587.7H415.9M404.7 603.1H415.9M418.3 583.1V586.6M418.3 595.2V598.7M412.7 583.1H423.9M412.7 598.7H423.9M426.3 553.1V557.1M426.3 565.7V569.7M420.7 553.1H431.9M420.7 569.7H431.9M434.2 553.9V557.9M434.2 566.5V570.5M428.6 553.9H439.8M428.6 570.5H439.8M442.2 556.1V560M442.2 568.6V572.5M436.6 556.1H447.8M436.6 572.5H447.8M450.2 551.7V555.7M450.2 564.3V568.3M444.6 551.7H455.8M444.6 568.3H455.8M458.1 564.9V568.7M458.1 577.3V581.1M452.5 564.9H463.8M452.5 581.1H463.8M466.1 568.6V572.3M466.1 580.9V584.6M460.5 568.6H471.7M460.5 584.6H471.7M474.1 581.8V585.3M474.1 593.9V597.4M468.5 581.8H479.7M468.5 597.4H479.7M482.1 595.1V598.4M482.1 607V610.3M476.5 595.1H487.7M476.5 610.3H487.7M490 615.7V618.7M490 627.3V630.3M484.4 615.7H495.6M484.4 630.3H495.6M498 647.7V650.1M498 658.7V661.1M492.4 647.7H503.6M492.4 661.1H503.6M506 653.5V655.8M506 664.4V666.7M500.4 653.5H511.6M500.4 666.7H511.6M513.9 670.9V672.8M513.9 681.4V683.3M508.3 670.9H519.5M508.3 683.3H519.5M521.9 694.1V695.5M521.9 704.1V705.5M516.3 694.1H527.5M516.3 705.5H527.5M529.9 701V702.3M529.9 710.9V712.2M524.3 701H535.5M524.3 712.2H535.5M537.8 728.8V729.4M537.8 738V738.6M532.2 728.8H543.4M532.2 738.6H543.4M540.2 736.9H551.4M540.2 746.3H551.4M548.2 737.6H559.4M548.2 747H559.4M556.2 751.1H567.4M556.2 759.7H567.4M564.1 764.6H575.3M564.1 772.4H575.3M572.1 764.6H583.3M572.1 772.4H583.3M580.1 768.6H591.3M580.1 776.2H591.3M588 791.6H599.2M588 797.6H599.2M596 779.9H607.2M596 786.7H607.2M604 772.5H615.2M604 779.9H615.2M611.9 784.5H623.1M611.9 790.9H623.1M619.9 782.2H631.1M619.9 788.8H631.1M627.9 778.8H639.1M627.9 785.6H639.1M635.9 786.9H647.1M635.9 793.1H647.1M643.8 785.6H655M643.8 792H655M651.8 779.4H663M651.8 786.2H663M659.8 784H671M659.8 790.6H671M667.7 778.8H678.9M667.7 785.6H678.9M675.7 788H686.9M675.7 794.2H686.9M683.7 778.8H694.9M683.7 785.6H694.9M691.6 797H702.9M691.6 803H702.9M699.6 793.2H710.8M699.6 799.2H710.8M707.6 789.6H718.8M707.6 795.6H718.8M715.6 782.2H726.8M715.6 788.8H726.8M723.5 788H734.7M723.5 794.2H734.7M731.5 784H742.7M731.5 790.6H742.7M739.5 791.4H750.7M739.5 797.4H750.7M747.4 786.3H758.6M747.4 792.7H758.6M755.4 781H766.6M755.4 787.8H766.6" stroke="#0000ff" stroke-width="2" stroke-linecap="round" fill="none"/>
<polyline points="99.5,1024.5 107.5,1024 115.4,1024 123.4,1023.8 131.4,1023.6 139.3,1023.3 147.3,1022.8 155.3,1021.5 163.3,1020 171.2,1019 179.2,1018 187.2,1016 195.1,1014 203.1,1011.7 211.1,1008 219.1,1006 227,1003 235,1000.3 243,993.3 250.9,987.8 258.9,980.7 266.9,967.4 274.8,954.9 282.8,941.6 290.8,922.2 298.8,892.3 306.7,868.8 314.7,842.3 322.7,822.3 330.6,803.5 338.6,795.3 346.6,793.6 354.5,808.7 362.5,822.3 370.5,846.3 378.4,872.1 386.4,901 394.4,919.8 402.4,939.3 410.3,956.7 418.3,968 426.3,976.9 434.2,986.8 442.2,992.7 450.2,997.4 458.1,1002 466.1,1006.5 474.1,1009.5 482.1,1012 490,1014.3 498,1017 506,1019 513.9,1020.5 521.9,1021.5 529.9,1024.1 537.8,1025.1 545.8,1024.1 553.8,1025.1 561.8,1024.1 569.7,1025.1 577.7,1024.1 585.7,1025.1 593.6,1028.6 601.6,1029.6 609.6,1028.6 617.5,1029.6 625.5,1028.6 633.5,1029.6 641.5,1028.6 649.4,1029.6 657.4,1028.6 665.4,1029.6 673.3,1028.6 681.3,1029.6 689.3,1028.6 697.2,1029.6 705.2,1028.6 713.2,1029.6 721.2,1028.6 729.1,1029.6 737.1,1028.6 745.1,1029.6 753,1028.6 761,1029.6 769,1028.6" fill="none" stroke="#000" stroke-width="2" stroke-linejoin="round"/>
<path d="M93.7 1018.7h11.6v11.6h-11.6ZM101.7 1018.2h11.6v11.6h-11.6ZM109.6 1018.2h11.6v11.6h-11.6ZM117.6 1018h11.6v11.6h-11.6ZM125.6 1017.8h11.6v11.6h-11.6ZM133.5 1017.5h11.6v11.6h-11.6ZM141.5 1017h11.6v11.6h-11.6ZM149.5 1015.7h11.6v11.6h-11.6ZM157.5 1014.2h11.6v11.6h-11.6ZM165.4 1013.2h11.6v11.6h-11.6ZM173.4 1012.2h11.6v11.6h-11.6ZM181.4 1010.2h11.6v11.6h-11.6ZM189.3 1008.2h11.6v11.6h-11.6ZM197.3 1005.9h11.6v11.6h-11.6ZM205.3 1002.2h11.6v11.6h-11.6ZM213.2 1000.2h11.6v11.6h-11.6ZM221.2 997.2h11.6v11.6h-11.6ZM229.2 994.5h11.6v11.6h-11.6ZM237.2 987.5h11.6v11.6h-11.6ZM245.1 982h11.6v11.6h-11.6ZM253.1 974.9h11.6v11.6h-11.6ZM261.1 961.6h11.6v11.6h-11.6ZM269 949.1h11.6v11.6h-11.6ZM277 935.8h11.6v11.6h-11.6ZM285 916.4h11.6v11.6h-11.6ZM292.9 886.5h11.6v11.6h-11.6ZM300.9 863h11.6v11.6h-11.6ZM308.9 836.5h11.6v11.6h-11.6ZM316.9 816.5h11.6v11.6h-11.6ZM324.8 797.7h11.6v11.6h-11.6ZM332.8 789.5h11.6v11.6h-11.6ZM340.8 787.8h11.6v11.6h-11.6ZM348.7 802.9h11.6v11.6h-11.6ZM356.7 816.5h11.6v11.6h-11.6ZM364.7 840.5h11.6v11.6h-11.6ZM372.6 866.3h11.6v11.6h-11.6ZM380.6 895.2h11.6v11.6h-11.6ZM388.6 914h11.6v11.6h-11.6ZM396.6 933.5h11.6v11.6h-11.6ZM404.5 950.9h11.6v11.6h-11.6ZM412.5 962.2h11.6v11.6h-11.6ZM420.5 971.1h11.6v11.6h-11.6ZM428.4 981h11.6v11.6h-11.6ZM436.4 986.9h11.6v11.6h-11.6ZM444.4 991.6h11.6v11.6h-11.6ZM452.3 996.2h11.6v11.6h-11.6ZM460.3 1000.7h11.6v11.6h-11.6ZM468.3 1003.7h11.6v11.6h-11.6ZM476.3 1006.2h11.6v11.6h-11.6ZM484.2 1008.5h11.6v11.6h-11.6ZM492.2 1011.2h11.6v11.6h-11.6ZM500.2 1013.2h11.6v11.6h-11.6ZM508.1 1014.7h11.6v11.6h-11.6ZM516.1 1015.7h11.6v11.6h-11.6ZM524.1 1018.3h11.6v11.6h-11.6ZM532 1019.3h11.6v11.6h-11.6ZM540 1018.3h11.6v11.6h-11.6ZM548 1019.3h11.6v11.6h-11.6ZM556 1018.3h11.6v11.6h-11.6ZM563.9 1019.3h11.6v11.6h-11.6ZM571.9 1018.3h11.6v11.6h-11.6ZM579.9 1019.3h11.6v11.6h-11.6ZM587.8 1022.8h11.6v11.6h-11.6ZM595.8 1023.8h11.6v11.6h-11.6ZM603.8 1022.8h11.6v11.6h-11.6ZM611.8 1023.8h11.6v11.6h-11.6ZM619.7 1022.8h11.6v11.6h-11.6ZM627.7 1023.8h11.6v11.6h-11.6ZM635.7 1022.8h11.6v11.6h-11.6ZM643.6 1023.8h11.6v11.6h-11.6ZM651.6 1022.8h11.6v11.6h-11.6ZM659.6 1023.8h11.6v11.6h-11.6ZM667.5 1022.8h11.6v11.6h-11.6ZM675.5 1023.8h11.6v11.6h-11.6ZM683.5 1022.8h11.6v11.6h-11.6ZM691.5 1023.8h11.6v11.6h-11.6ZM699.4 1022.8h11.6v11.6h-11.6ZM707.4 1023.8h11.6v11.6h-11.6ZM715.4 1022.8h11.6v11.6h-11.6ZM723.3 1023.8h11.6v11.6h-11.6ZM731.3 1022.8h11.6v11.6h-11.6ZM739.3 1023.8h11.6v11.6h-11.6ZM747.2 1022.8h11.6v11.6h-11.6ZM755.2 1023.8h11.6v11.6h-11.6ZM763.2 1022.8h11.6v11.6h-11.6Z" fill="#000"/>
<path d="M93.9 1020H105.1M93.9 1029H105.1M101.9 1019.5H113.1M101.9 1028.5H113.1M109.8 1019.5H121M109.8 1028.5H121M117.8 1019.3H129M117.8 1028.3H129M125.8 1019.1H137M125.8 1028.1H137M133.8 1018.8H144.9M133.8 1027.8H144.9M141.7 1018.3H152.9M141.7 1027.3H152.9M149.7 1017H160.9M149.7 1026H160.9M157.7 1015.5H168.9M157.7 1024.5H168.9M165.6 1014.5H176.8M165.6 1023.5H176.8M173.6 1013.5H184.8M173.6 1022.5H184.8M181.6 1011.5H192.8M181.6 1020.5H192.8M189.5 1009.5H200.7M189.5 1018.5H200.7M197.5 1007.2H208.7M197.5 1016.2H208.7M205.5 1003.5H216.7M205.5 1012.5H216.7M213.5 1001.5H224.7M213.5 1010.5H224.7M221.4 998.5H232.6M221.4 1007.5H232.6M229.4 995.8H240.6M229.4 1004.8H240.6M237.4 988.8H248.6M237.4 997.8H248.6M245.3 983.3H256.5M245.3 992.3H256.5M253.3 976.2H264.5M253.3 985.2H264.5M261.3 962.9H272.5M261.3 971.9H272.5M269.2 950.4H280.4M269.2 959.4H280.4M277.2 937.1H288.4M277.2 946.1H288.4M285.2 917.7H296.4M285.2 926.7H296.4M293.1 887.8H304.4M293.1 896.8H304.4M301.1 864.3H312.3M301.1 873.3H312.3M309.1 837.8H320.3M309.1 846.8H320.3M317.1 817.8H328.3M317.1 826.8H328.3M325 799H336.2M325 808H336.2M333 790.8H344.2M333 799.8H344.2M341 789.1H352.2M341 798.1H352.2M348.9 804.2H360.1M348.9 813.2H360.1M356.9 817.8H368.1M356.9 826.8H368.1M364.9 841.8H376.1M364.9 850.8H376.1M372.8 867.6H384.1M372.8 876.6H384.1M380.8 896.5H392M380.8 905.5H392M388.8 915.3H400M388.8 924.3H400M396.8 934.8H408M396.8 943.8H408M404.7 952.2H415.9M404.7 961.2H415.9M412.7 963.5H423.9M412.7 972.5H423.9M420.7 972.4H431.9M420.7 981.4H431.9M428.6 982.3H439.8M428.6 991.3H439.8M436.6 988.2H447.8M436.6 997.2H447.8M444.6 992.9H455.8M444.6 1001.9H455.8M452.5 997.5H463.8M452.5 1006.5H463.8M460.5 1002H471.7M460.5 1011H471.7M468.5 1005H479.7M468.5 1014H479.7M476.5 1007.5H487.7M476.5 1016.5H487.7M484.4 1009.8H495.6M484.4 1018.8H495.6M492.4 1012.5H503.6M492.4 1021.5H503.6M500.4 1014.5H511.6M500.4 1023.5H511.6M508.3 1016H519.5M508.3 1025H519.5M516.3 1017H527.5M516.3 1026H527.5M524.3 1019.6H535.5M524.3 1028.6H535.5M532.2 1020.6H543.4M532.2 1029.6H543.4M540.2 1019.6H551.4M540.2 1028.6H551.4M548.2 1020.6H559.4M548.2 1029.6H559.4M556.2 1019.6H567.4M556.2 1028.6H567.4M564.1 1020.6H575.3M564.1 1029.6H575.3M572.1 1019.6H583.3M572.1 1028.6H583.3M580.1 1020.6H591.3M580.1 1029.6H591.3M588 1024.1H599.2M588 1033.1H599.2M596 1025.1H607.2M596 1034.1H607.2M604 1024.1H615.2M604 1033.1H615.2M611.9 1025.1H623.1M611.9 1034.1H623.1M619.9 1024.1H631.1M619.9 1033.1H631.1M627.9 1025.1H639.1M627.9 1034.1H639.1M635.9 1024.1H647.1M635.9 1033.1H647.1M643.8 1025.1H655M643.8 1034.1H655M651.8 1024.1H663M651.8 1033.1H663M659.8 1025.1H671M659.8 1034.1H671M667.7 1024.1H678.9M667.7 1033.1H678.9M675.7 1025.1H686.9M675.7 1034.1H686.9M683.7 1024.1H694.9M683.7 1033.1H694.9M691.6 1025.1H702.9M691.6 1034.1H702.9M699.6 1024.1H710.8M699.6 1033.1H710.8M707.6 1025.1H718.8M707.6 1034.1H718.8M715.6 1024.1H726.8M715.6 1033.1H726.8M723.5 1025.1H734.7M723.5 1034.1H734.7M731.5 1024.1H742.7M731.5 1033.1H742.7M739.5 1025.1H750.7M739.5 1034.1H750.7M747.4 1024.1H758.6M747.4 1033.1H758.6M755.4 1025.1H766.6M755.4 1034.1H766.6M763.4 1024.1H774.6M763.4 1033.1H774.6" stroke="#000" stroke-width="2" stroke-linecap="round" fill="none"/>
<polyline points="99.5,1026.5 107.5,1027.1 115.4,1026.5 123.4,1027.1 131.4,1026.5 139.3,1027.1 147.3,1026.5 155.3,1027.1 163.3,1026.5 171.2,1027.1 179.2,1026.5 187.2,1027.1 195.1,1026.5 203.1,1024.5 211.1,1022.5 219.1,1020.5 227,1019 235,1015.5 243,1015.5 250.9,1011.5 258.9,1012.5 266.9,1009.5 274.8,1005 282.8,1005 290.8,999.8 298.8,993.8 306.7,988 314.7,982.1 322.7,974.6 330.6,958.6 338.6,945.2 346.6,927.6 354.5,908.8 362.5,886.9 370.5,858.7 378.4,837.1 386.4,811.7 394.4,797.6 402.4,794.6 410.3,792.2 418.3,806.3 426.3,828.9 434.2,855.7 442.2,885.3 450.2,907 458.1,926.5 466.1,944.6 474.1,961.8 482.1,975.2 490,983.4 498,991.6 506,995.1 513.9,1000.3 521.9,1004.1 529.9,1006.9 537.8,1010.4 545.8,1012.8 553.8,1014.4 561.8,1015.8 569.7,1016.8 577.7,1017.5 585.7,1018.6 593.6,1019.8 601.6,1020.3 609.6,1021 617.5,1021.5 625.5,1024.1 633.5,1023 641.5,1023 649.4,1024.1 657.4,1023 665.4,1023 673.3,1024.1 681.3,1023 689.3,1025 697.2,1026.1 705.2,1025 713.2,1025 721.2,1026.1 729.1,1025 737.1,1025 745.1,1026.1 753,1025 761,1025" fill="none" stroke="#ff00ff" stroke-width="2" stroke-linejoin="round"/>
<path d="M92.5 1026.5a7 7 0 1 0 14 0a7 7 0 1 0 -14 0ZM100.5 1027.1a7 7 0 1 0 14 0a7 7 0 1 0 -14 0ZM108.4 1026.5a7 7 0 1 0 14 0a7 7 0 1 0 -14 0ZM116.4 1027.1a7 7 0 1 0 14 0a7 7 0 1 0 -14 0ZM124.4 1026.5a7 7 0 1 0 14 0a7 7 0 1 0 -14 0ZM132.3 1027.1a7 7 0 1 0 14 0a7 7 0 1 0 -14 0ZM140.3 1026.5a7 7 0 1 0 14 0a7 7 0 1 0 -14 0ZM148.3 1027.1a7 7 0 1 0 14 0a7 7 0 1 0 -14 0ZM156.3 1026.5a7 7 0 1 0 14 0a7 7 0 1 0 -14 0ZM164.2 1027.1a7 7 0 1 0 14 0a7 7 0 1 0 -14 0ZM172.2 1026.5a7 7 0 1 0 14 0a7 7 0 1 0 -14 0ZM180.2 1027.1a7 7 0 1 0 14 0a7 7 0 1 0 -14 0ZM188.1 1026.5a7 7 0 1 0 14 0a7 7 0 1 0 -14 0ZM196.1 1024.5a7 7 0 1 0 14 0a7 7 0 1 0 -14 0ZM204.1 1022.5a7 7 0 1 0 14 0a7 7 0 1 0 -14 0ZM212.1 1020.5a7 7 0 1 0 14 0a7 7 0 1 0 -14 0ZM220 1019a7 7 0 1 0 14 0a7 7 0 1 0 -14 0ZM228 1015.5a7 7 0 1 0 14 0a7 7 0 1 0 -14 0ZM236 1015.5a7 7 0 1 0 14 0a7 7 0 1 0 -14 0ZM243.9 1011.5a7 7 0 1 0 14 0a7 7 0 1 0 -14 0ZM251.9 1012.5a7 7 0 1 0 14 0a7 7 0 1 0 -14 0ZM259.9 1009.5a7 7 0 1 0 14 0a7 7 0 1 0 -14 0ZM267.8 1005a7 7 0 1 0 14 0a7 7 0 1 0 -14 0ZM275.8 1005a7 7 0 1 0 14 0a7 7 0 1 0 -14 0ZM283.8 999.8a7 7 0 1 0 14 0a7 7 0 1 0 -14 0ZM291.8 993.8a7 7 0 1 0 14 0a7 7 0 1 0 -14 0ZM299.7 988a7 7 0 1 0 14 0a7 7 0 1 0 -14 0ZM307.7 982.1a7 7 0 1 0 14 0a7 7 0 1 0 -14 0ZM315.7 974.6a7 7 0 1 0 14 0a7 7 0 1 0 -14 0ZM323.6 958.6a7 7 0 1 0 14 0a7 7 0 1 0 -14 0ZM331.6 945.2a7 7 0 1 0 14 0a7 7 0 1 0 -14 0ZM339.6 927.6a7 7 0 1 0 14 0a7 7 0 1 0 -14 0ZM347.5 908.8a7 7 0 1 0 14 0a7 7 0 1 0 -14 0ZM355.5 886.9a7 7 0 1 0 14 0a7 7 0 1 0 -14 0ZM363.5 858.7a7 7 0 1 0 14 0a7 7 0 1 0 -14 0ZM371.4 837.1a7 7 0 1 0 14 0a7 7 0 1 0 -14 0ZM379.4 811.7a7 7 0 1 0 14 0a7 7 0 1 0 -14 0ZM387.4 797.6a7 7 0 1 0 14 0a7 7 0 1 0 -14 0ZM395.4 794.6a7 7 0 1 0 14 0a7 7 0 1 0 -14 0ZM403.3 792.2a7 7 0 1 0 14 0a7 7 0 1 0 -14 0ZM411.3 806.3a7 7 0 1 0 14 0a7 7 0 1 0 -14 0ZM419.3 828.9a7 7 0 1 0 14 0a7 7 0 1 0 -14 0ZM427.2 855.7a7 7 0 1 0 14 0a7 7 0 1 0 -14 0ZM435.2 885.3a7 7 0 1 0 14 0a7 7 0 1 0 -14 0ZM443.2 907a7 7 0 1 0 14 0a7 7 0 1 0 -14 0ZM451.1 926.5a7 7 0 1 0 14 0a7 7 0 1 0 -14 0ZM459.1 944.6a7 7 0 1 0 14 0a7 7 0 1 0 -14 0ZM467.1 961.8a7 7 0 1 0 14 0a7 7 0 1 0 -14 0ZM475.1 975.2a7 7 0 1 0 14 0a7 7 0 1 0 -14 0ZM483 983.4a7 7 0 1 0 14 0a7 7 0 1 0 -14 0ZM491 991.6a7 7 0 1 0 14 0a7 7 0 1 0 -14 0ZM499 995.1a7 7 0 1 0 14 0a7 7 0 1 0 -14 0ZM506.9 1000.3a7 7 0 1 0 14 0a7 7 0 1 0 -14 0ZM514.9 1004.1a7 7 0 1 0 14 0a7 7 0 1 0 -14 0ZM522.9 1006.9a7 7 0 1 0 14 0a7 7 0 1 0 -14 0ZM530.8 1010.4a7 7 0 1 0 14 0a7 7 0 1 0 -14 0ZM538.8 1012.8a7 7 0 1 0 14 0a7 7 0 1 0 -14 0ZM546.8 1014.4a7 7 0 1 0 14 0a7 7 0 1 0 -14 0ZM554.8 1015.8a7 7 0 1 0 14 0a7 7 0 1 0 -14 0ZM562.7 1016.8a7 7 0 1 0 14 0a7 7 0 1 0 -14 0ZM570.7 1017.5a7 7 0 1 0 14 0a7 7 0 1 0 -14 0ZM578.7 1018.6a7 7 0 1 0 14 0a7 7 0 1 0 -14 0ZM586.6 1019.8a7 7 0 1 0 14 0a7 7 0 1 0 -14 0ZM594.6 1020.3a7 7 0 1 0 14 0a7 7 0 1 0 -14 0ZM602.6 1021a7 7 0 1 0 14 0a7 7 0 1 0 -14 0ZM610.5 1021.5a7 7 0 1 0 14 0a7 7 0 1 0 -14 0ZM618.5 1024.1a7 7 0 1 0 14 0a7 7 0 1 0 -14 0ZM626.5 1023a7 7 0 1 0 14 0a7 7 0 1 0 -14 0ZM634.5 1023a7 7 0 1 0 14 0a7 7 0 1 0 -14 0ZM642.4 1024.1a7 7 0 1 0 14 0a7 7 0 1 0 -14 0ZM650.4 1023a7 7 0 1 0 14 0a7 7 0 1 0 -14 0ZM658.4 1023a7 7 0 1 0 14 0a7 7 0 1 0 -14 0ZM666.3 1024.1a7 7 0 1 0 14 0a7 7 0 1 0 -14 0ZM674.3 1023a7 7 0 1 0 14 0a7 7 0 1 0 -14 0ZM682.3 1025a7 7 0 1 0 14 0a7 7 0 1 0 -14 0ZM690.2 1026.1a7 7 0 1 0 14 0a7 7 0 1 0 -14 0ZM698.2 1025a7 7 0 1 0 14 0a7 7 0 1 0 -14 0ZM706.2 1025a7 7 0 1 0 14 0a7 7 0 1 0 -14 0ZM714.2 1026.1a7 7 0 1 0 14 0a7 7 0 1 0 -14 0ZM722.1 1025a7 7 0 1 0 14 0a7 7 0 1 0 -14 0ZM730.1 1025a7 7 0 1 0 14 0a7 7 0 1 0 -14 0ZM738.1 1026.1a7 7 0 1 0 14 0a7 7 0 1 0 -14 0ZM746 1025a7 7 0 1 0 14 0a7 7 0 1 0 -14 0ZM754 1025a7 7 0 1 0 14 0a7 7 0 1 0 -14 0Z" fill="#ff00ff"/>
</g><!--/DATA-->
</svg></body></html>
